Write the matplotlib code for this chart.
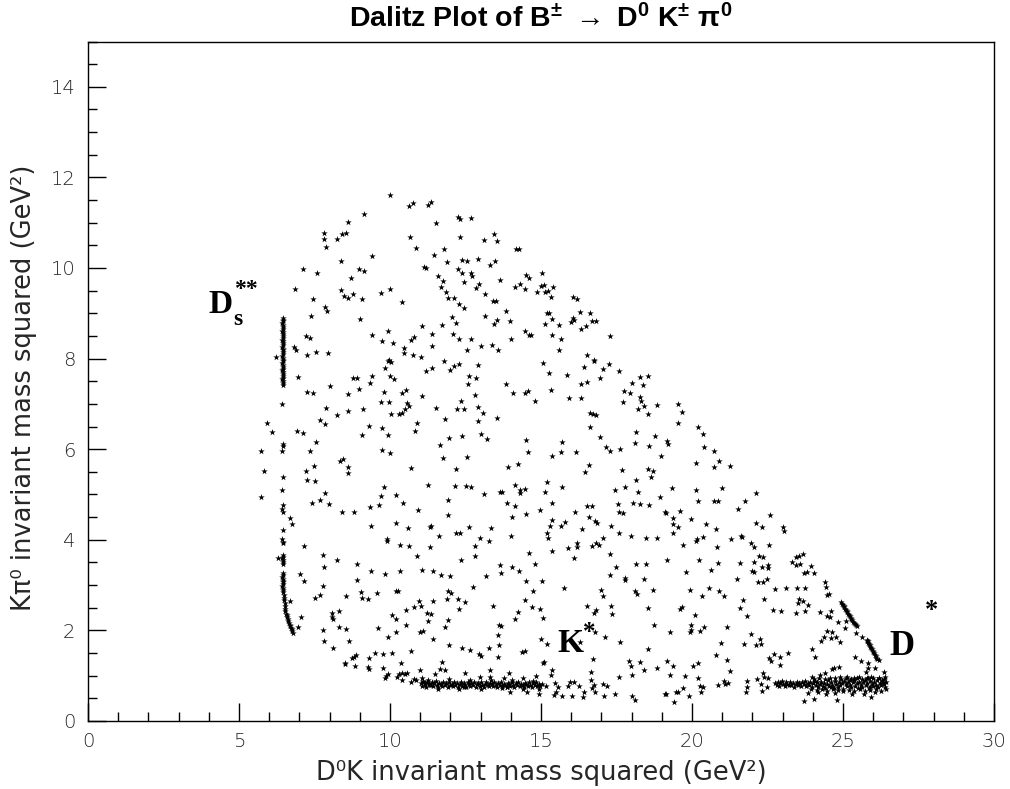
import matplotlib

matplotlib.use("Agg")
import matplotlib.pyplot as plt
import numpy as np
from matplotlib.ticker import MultipleLocator

UPPER_LEFT = [
    (9.99, 11.61), (10.63, 11.37), (10.76, 11.43), (11.26, 11.39), (9.15, 11.19), (8.60, 11.02),
    (7.82, 10.78), (7.81, 10.63), (7.89, 10.47), (8.24, 10.63), (8.41, 10.74), (8.53, 10.77),
    (10.68, 10.69), (10.85, 10.45), (9.39, 10.26), (8.39, 10.16), (11.12, 10.02), (11.20, 10.01),
    (8.96, 9.97), (9.14, 9.93), (7.12, 9.97), (7.57, 9.88), (8.72, 9.77), (6.84, 9.53),
    (8.37, 9.51), (8.48, 9.39), (8.61, 9.34), (8.77, 9.43), (9.07, 9.31), (9.70, 9.44),
    (10.00, 9.54), (10.40, 9.26), (7.46, 9.32), (7.84, 9.13), (7.92, 9.05), (7.37, 8.95),
    (9.01, 8.88), (11.06, 8.73), (9.92, 8.61), (9.42, 8.51), (9.73, 8.39), (10.11, 8.34),
    (7.21, 8.50), (7.34, 8.45), (10.69, 8.41), (10.80, 8.48), (10.45, 8.24), (10.47, 8.12),
    (10.77, 8.09), (11.03, 8.03), (6.81, 8.26), (6.89, 8.19), (7.25, 8.07), (7.56, 8.14),
    (7.94, 8.13), (6.24, 8.03), (9.96, 7.98),
]
UPPER_MID = [
    (11.37, 11.45), (12.24, 11.12), (12.33, 11.08), (12.68, 11.11), (11.53, 11.00), (13.43, 10.76),
    (12.31, 10.69), (13.10, 10.61), (13.55, 10.60), (14.16, 10.41), (14.26, 10.41), (11.79, 10.41),
    (11.47, 10.28), (11.90, 10.13), (12.37, 10.18), (12.55, 10.15), (12.90, 10.19), (13.48, 10.15),
    (13.31, 10.06), (12.25, 9.97), (12.40, 9.88), (12.67, 9.90), (12.71, 9.82), (11.58, 9.82),
    (11.74, 9.71), (12.44, 9.69), (12.96, 9.65), (12.84, 9.56), (13.63, 9.74), (11.68, 9.58),
    (11.85, 9.46), (11.93, 9.34), (12.12, 9.34), (13.14, 9.43), (12.27, 9.21), (12.45, 9.11),
    (13.42, 9.27), (13.50, 9.27), (13.84, 9.06), (15.05, 9.90), (14.50, 9.85), (14.61, 9.77),
    (14.29, 9.65), (14.13, 9.58), (14.47, 9.54), (15.01, 9.60), (15.11, 9.63), (15.39, 9.58),
    (14.86, 9.46), (15.15, 9.46), (15.22, 9.49), (15.33, 9.37), (16.05, 9.37), (16.19, 9.32),
    (15.19, 9.00), (15.27, 9.01), (15.38, 8.88), (15.15, 8.76), (15.60, 8.74), (16.28, 9.02),
    (16.61, 9.01), (16.05, 8.90), (16.10, 8.85), (16.01, 8.81), (16.70, 8.84), (16.83, 8.83),
    (16.49, 8.73), (16.34, 8.65), (17.27, 8.50), (12.05, 8.92), (12.18, 8.78), (11.73, 8.75),
    (13.14, 8.94), (13.53, 8.85), (13.46, 8.77), (13.96, 8.84), (11.39, 8.54), (12.08, 8.55),
    (12.27, 8.44), (12.68, 8.43), (11.40, 8.28), (12.54, 8.18), (13.01, 8.27), (13.37, 8.31),
    (13.57, 8.20), (14.00, 8.43), (14.47, 8.61), (14.60, 8.51), (14.66, 8.51), (15.36, 8.51),
    (15.66, 8.44), (15.59, 8.19), (16.52, 8.08), (16.76, 7.98),
]
MID_LEFT = [
    (6.42, 6.99), (6.96, 7.59), (7.24, 7.27), (7.44, 7.25), (8.02, 7.40), (8.76, 7.58),
    (8.90, 7.58), (9.40, 7.62), (9.33, 7.47), (8.97, 7.32), (8.60, 7.22), (9.82, 7.79),
    (9.93, 7.95), (10.05, 7.93), (10.01, 7.62), (10.15, 7.56), (9.81, 7.27), (9.70, 7.05),
    (9.97, 7.05), (10.39, 7.25), (10.52, 7.31), (11.19, 7.73), (11.06, 7.17), (10.58, 7.01),
    (10.62, 6.96), (10.49, 6.88), (10.41, 6.81), (10.30, 6.77), (10.02, 6.77), (7.87, 6.92),
    (8.26, 6.76), (8.60, 6.84), (9.10, 6.89), (7.67, 6.64), (7.86, 6.55), (5.94, 6.58),
    (6.11, 6.37), (6.92, 6.40), (7.11, 6.35), (9.29, 6.52), (9.09, 6.32), (9.73, 6.47),
    (9.93, 6.32), (10.88, 6.58), (10.82, 6.40), (6.45, 6.11), (6.46, 6.07), (5.72, 5.95),
    (6.41, 5.95), (7.54, 6.16), (7.34, 5.96), (9.72, 5.98), (9.99, 5.92), (8.46, 5.79),
    (8.35, 5.73), (8.62, 5.61), (8.61, 5.48), (7.49, 5.64), (7.23, 5.51), (5.84, 5.51),
    (10.69, 5.59), (6.45, 5.38), (7.26, 5.31), (7.53, 5.29), (6.43, 5.11), (5.72, 4.95),
    (9.80, 5.16), (9.70, 4.96), (10.19, 4.99), (11.27, 5.20), (7.85, 5.03), (7.67, 4.88),
    (7.42, 4.81), (7.98, 4.79), (10.43, 4.82), (9.64, 4.76), (9.34, 4.73), (6.47, 4.76),
    (6.43, 4.67), (6.47, 4.61), (8.40, 4.62), (8.80, 4.61), (10.93, 4.65), (6.68, 4.49),
    (6.77, 4.34), (9.36, 4.31), (10.20, 4.38), (10.60, 4.27), (11.32, 4.29), (6.45, 4.21),
    (6.43, 4.02), (9.90, 4.01),
]
MID_CENTRE = [
    (11.78, 7.94), (11.39, 7.79), (12.00, 7.75), (12.13, 7.83), (12.28, 7.87), (12.90, 7.86),
    (12.61, 7.62), (12.84, 7.57), (12.57, 7.45), (13.83, 7.45), (14.06, 7.23), (14.46, 7.23),
    (14.56, 7.28), (14.79, 7.06), (12.80, 7.19), (12.35, 7.07), (11.52, 6.92), (12.21, 6.88),
    (12.45, 6.88), (12.90, 6.93), (13.07, 6.81), (12.92, 6.62), (13.53, 6.69), (11.81, 6.67),
    (15.06, 7.91), (15.25, 7.68), (15.32, 7.31), (15.85, 7.64), (15.92, 7.12), (16.31, 7.12),
    (16.32, 7.45), (16.51, 7.49), (16.43, 7.82), (16.75, 7.95), (17.04, 7.76), (17.26, 7.88),
    (16.97, 7.57), (17.58, 7.73), (18.29, 7.59), (18.55, 7.62), (18.03, 7.47), (18.39, 7.42),
    (17.74, 7.28), (17.96, 7.23), (18.27, 7.15), (18.32, 7.06), (17.71, 7.04), (18.41, 6.95),
    (18.21, 6.89), (18.83, 6.97), (18.53, 6.77), (16.63, 6.81), (16.72, 6.77), (16.82, 6.76),
    (16.62, 6.50), (16.95, 6.27), (17.17, 6.04), (17.29, 5.95), (17.63, 6.00), (18.16, 6.39),
    (18.13, 6.14), (18.78, 6.29), (18.59, 6.06), (18.99, 5.84), (11.97, 6.25), (12.38, 6.29),
    (13.00, 6.34), (13.22, 6.23), (11.65, 6.09), (11.74, 5.81), (12.55, 5.83), (12.18, 5.57),
    (14.49, 6.21), (14.58, 5.94), (13.91, 5.61), (14.23, 5.68), (15.36, 5.85), (15.69, 6.16),
    (15.68, 5.94), (16.15, 5.94), (16.59, 5.65), (16.46, 5.50), (17.68, 5.54), (18.53, 5.56),
    (18.70, 5.52), (18.63, 5.39), (18.14, 5.31), (17.78, 5.17), (17.45, 5.10), (18.23, 5.05),
    (18.95, 4.94), (12.14, 5.18), (12.53, 5.18), (12.68, 5.16), (13.10, 5.01), (13.66, 5.06),
    (13.72, 5.06), (14.13, 5.22), (14.47, 5.13), (14.32, 5.09), (14.31, 5.03), (15.21, 5.28),
    (15.12, 5.06), (15.69, 5.16), (11.92, 4.87), (13.86, 4.82), (14.13, 4.75), (14.97, 4.66),
    (15.38, 4.81), (11.92, 4.55), (14.03, 4.50), (14.49, 4.57), (16.13, 4.62), (16.51, 4.74),
    (16.68, 4.74), (16.59, 4.51), (16.78, 4.41), (16.84, 4.38), (17.54, 4.78), (18.06, 4.82),
    (18.29, 4.78), (18.59, 4.76), (17.58, 4.61), (17.71, 4.60), (19.11, 4.61), (11.36, 4.31),
    (11.64, 4.08), (12.18, 4.14), (12.33, 4.14), (12.63, 4.28), (12.97, 4.05), (13.33, 4.27),
    (14.00, 4.09), (15.36, 4.43), (15.30, 4.30), (15.65, 4.31), (15.79, 4.39), (15.20, 4.16),
    (15.23, 4.05), (16.37, 4.24), (17.31, 4.30), (17.06, 4.03), (17.58, 4.14), (17.97, 4.08),
    (18.49, 4.03), (18.85, 4.05),
]
MID_RIGHT = [
    (19.55, 6.99), (19.67, 6.83), (19.55, 6.58), (20.19, 6.49), (20.35, 6.33), (19.17, 6.17),
    (19.20, 6.12), (20.41, 6.04), (20.73, 5.95), (20.88, 5.75), (20.14, 5.70), (20.74, 5.61),
    (21.27, 5.62), (19.33, 5.14), (20.15, 5.11), (21.01, 5.14), (22.11, 5.04), (20.21, 4.85),
    (20.74, 4.85), (20.85, 4.85), (21.77, 4.86), (21.54, 4.68), (22.57, 4.55), (19.14, 4.60),
    (19.61, 4.63), (19.37, 4.49), (19.97, 4.45), (19.37, 4.35), (19.55, 4.28), (20.46, 4.35),
    (20.78, 4.24), (22.13, 4.36), (22.33, 4.29), (23.03, 4.28), (23.06, 4.20), (19.38, 4.14),
    (20.37, 4.07), (21.62, 4.09), (21.67, 4.06), (21.28, 4.02), (20.16, 4.01),
]
LOW_LEFT = [
    (7.17, 3.86), (6.28, 3.59), (7.78, 3.66), (8.26, 3.55), (8.90, 3.46), (7.83, 3.39),
    (7.01, 3.25), (7.17, 3.10), (7.79, 2.97), (7.69, 2.79), (7.53, 2.71), (8.90, 3.11),
    (9.36, 3.31), (9.85, 3.25), (10.32, 3.31), (11.05, 3.33), (9.03, 2.85), (9.08, 2.71),
    (9.26, 2.69), (9.57, 2.83), (8.54, 2.75), (10.21, 2.88), (10.25, 2.86), (9.89, 3.97),
    (10.33, 3.89), (10.63, 3.86), (10.89, 3.65), (11.32, 3.84), (6.69, 2.65), (7.07, 2.29),
    (6.95, 2.07), (8.07, 2.39), (8.30, 2.42), (8.08, 2.29), (8.13, 2.26), (8.32, 2.08),
    (8.53, 2.02), (7.78, 2.00), (7.80, 1.76), (8.12, 1.61), (8.64, 1.77), (9.59, 2.06),
    (9.92, 1.85), (10.19, 1.97), (10.08, 2.33), (10.21, 2.26), (10.53, 2.44), (10.52, 2.11),
    (10.78, 2.51), (10.95, 2.64), (11.04, 2.53), (11.23, 2.38), (11.26, 2.21), (10.98, 1.96),
    (11.11, 1.98), (10.71, 1.54), (9.49, 1.49), (9.77, 1.47), (10.08, 1.49), (9.30, 1.40),
    (8.81, 1.42), (8.87, 1.46), (8.75, 1.38), (8.50, 1.29), (8.52, 1.25), (8.85, 1.21),
    (9.26, 1.19), (9.29, 1.14), (9.76, 1.17), (9.92, 1.03), (9.88, 1.00), (9.84, 0.96),
    (10.24, 0.97), (10.31, 1.04), (10.40, 1.07), (10.49, 1.04), (10.57, 1.05), (10.35, 1.27),
    (10.98, 1.13), (10.41, 0.91), (10.71, 0.87), (10.79, 0.92), (10.86, 0.91), (11.06, 0.94),
    (11.09, 0.87), (11.17, 0.83), (11.28, 0.82), (11.35, 0.80),
]
LOW_CENTRE = [
    (12.82, 3.86), (13.28, 3.97), (12.80, 3.65), (12.35, 3.55), (11.42, 3.31), (11.70, 3.23),
    (11.99, 3.21), (13.17, 3.19), (13.64, 3.44), (13.69, 3.27), (14.03, 3.39), (14.27, 3.32),
    (14.59, 3.71), (14.81, 3.47), (14.52, 3.10), (15.03, 3.08), (15.38, 3.76), (15.88, 3.81),
    (16.10, 3.59), (16.20, 3.83), (16.21, 3.93), (16.69, 3.86), (16.82, 3.93), (16.93, 3.89),
    (17.27, 3.69), (17.50, 3.39), (17.29, 3.22), (17.77, 3.16), (17.78, 3.12), (18.16, 3.46),
    (18.48, 3.46), (18.42, 3.13), (18.13, 2.86), (18.19, 2.80), (18.71, 2.89), (18.53, 2.49),
    (18.73, 2.11), (18.53, 1.60), (12.74, 2.95), (11.93, 2.86), (12.02, 2.83), (11.89, 2.69),
    (12.24, 2.70), (12.49, 2.63), (11.42, 2.65), (12.27, 2.47), (13.40, 2.53), (11.37, 2.36),
    (11.92, 2.24), (11.81, 2.08), (13.62, 2.13), (13.69, 2.10), (13.57, 1.90), (11.44, 1.80),
    (11.95, 1.67), (12.38, 1.62), (12.64, 1.57), (12.96, 1.48), (13.03, 1.44), (13.29, 1.62),
    (13.60, 1.67), (13.59, 1.42), (14.36, 1.53), (14.46, 1.55), (14.15, 2.25), (14.24, 2.41),
    (14.46, 2.67), (14.75, 2.86), (14.71, 2.52), (14.97, 2.47), (15.07, 2.27), (15.77, 2.93),
    (15.01, 1.81), (15.19, 1.70), (16.54, 2.54), (16.74, 2.39), (16.83, 2.45), (16.99, 2.89),
    (17.05, 2.75), (17.31, 2.53), (17.36, 2.37), (16.79, 1.96), (17.11, 1.86), (16.30, 1.75),
    (17.63, 1.74), (16.73, 1.37), (17.93, 1.33), (17.97, 1.22), (18.29, 1.30), (18.40, 1.13),
    (18.83, 1.16), (18.03, 1.02), (17.60, 0.98), (16.65, 1.09), (15.07, 1.27), (15.11, 1.30),
    (15.36, 1.13), (15.33, 1.02), (13.30, 1.13), (13.93, 1.07), (11.71, 1.30), (11.66, 1.14),
    (11.81, 1.13), (11.48, 1.04), (12.47, 1.05), (14.82, 1.00), (15.16, 0.77), (15.47, 0.83),
    (15.58, 0.76), (15.51, 0.65), (15.42, 0.57), (15.70, 0.55), (15.88, 0.77), (15.95, 0.87),
    (16.08, 0.85), (16.26, 0.77), (16.04, 0.55), (16.41, 0.63), (16.39, 0.52), (16.65, 0.91),
    (16.74, 0.80), (16.80, 0.65), (16.69, 0.72), (17.07, 0.82), (17.18, 0.77), (17.10, 0.55),
    (17.44, 0.59), (18.03, 0.55), (18.10, 0.47), (19.12, 0.60), (14.92, 0.70), (14.92, 0.59),
    (14.54, 0.63), (13.98, 0.65), (13.89, 0.76), (14.42, 0.96), (13.76, 0.94), (13.32, 0.98),
    (12.99, 0.98), (12.44, 0.76),
]
LOW_RIGHT = [
    (19.72, 3.89), (20.15, 3.98), (20.83, 3.83), (19.18, 3.55), (20.24, 3.55), (20.85, 3.48),
    (20.63, 3.33), (19.79, 3.28), (19.95, 2.90), (20.56, 2.93), (20.32, 2.77), (20.90, 2.86),
    (21.07, 2.77), (21.96, 3.94), (22.04, 3.84), (22.54, 3.89), (21.58, 3.49), (22.05, 3.50),
    (22.23, 3.65), (22.34, 3.62), (22.32, 3.40), (22.52, 3.44), (22.52, 3.37), (21.99, 3.32),
    (22.07, 3.28), (21.48, 3.13), (22.20, 3.06), (22.35, 3.06), (22.48, 3.13), (21.68, 2.67),
    (21.58, 2.50), (21.81, 2.31), (22.39, 2.69), (22.74, 2.91), (23.10, 2.94), (23.48, 2.94),
    (23.75, 2.93), (23.54, 2.69), (23.69, 2.65), (23.51, 2.61), (23.84, 2.57), (22.67, 2.44),
    (22.95, 2.43), (23.43, 2.38), (23.73, 2.42), (23.32, 3.52), (23.44, 3.61), (23.55, 3.65),
    (23.69, 3.68), (23.45, 3.44), (23.59, 3.46), (23.71, 3.27), (23.80, 3.30), (23.94, 3.43),
    (24.04, 3.26), (24.40, 3.06), (24.45, 2.95), (24.48, 2.78), (24.53, 2.81), (24.23, 2.40),
    (24.48, 2.31), (24.62, 2.42), (24.58, 2.30), (24.82, 2.19), (25.09, 2.21), (25.08, 2.06),
    (24.47, 1.99), (24.64, 1.97), (24.37, 1.86), (24.28, 1.77), (24.60, 1.83), (24.77, 1.86),
    (24.89, 1.74), (25.44, 1.94), (25.63, 1.86), (25.79, 1.77), (23.96, 1.59), (24.07, 1.42),
    (25.39, 1.42), (25.61, 1.33), (25.84, 1.27), (25.83, 1.18), (26.05, 1.18), (25.75, 1.09),
    (26.35, 1.09), (23.19, 1.51), (22.73, 1.47), (22.90, 1.41), (22.55, 1.40), (22.62, 1.33),
    (22.91, 1.24), (19.95, 1.97), (19.26, 1.97), (20.11, 2.35), (19.61, 2.48), (19.68, 2.51),
    (19.98, 2.12), (19.98, 2.00), (20.28, 1.99), (20.40, 2.07), (21.15, 2.07), (20.95, 1.73),
    (20.79, 1.46), (21.17, 1.35), (21.26, 1.10), (21.94, 1.91), (21.73, 1.71), (22.12, 1.68),
    (22.29, 1.71), (22.26, 1.82), (19.19, 1.33), (19.37, 1.21), (20.04, 1.21), (20.19, 1.28),
    (19.27, 1.01), (19.76, 0.99), (20.21, 0.96), (20.25, 0.78), (20.35, 0.75), (20.31, 0.64),
    (19.15, 0.59), (19.47, 0.65), (19.54, 0.65), (19.70, 0.72), (19.89, 0.55), (19.42, 0.41),
    (20.85, 0.79), (21.05, 0.88), (21.10, 0.81), (21.20, 0.83), (21.82, 0.88), (21.81, 0.76),
    (21.79, 0.65), (22.16, 0.93), (22.27, 0.82), (22.35, 1.05), (22.39, 0.98), (22.51, 0.95),
    (22.48, 0.76), (22.32, 0.66), (23.72, 0.45), (24.05, 0.48), (24.81, 0.46), (23.84, 0.61),
    (24.19, 0.65), (24.44, 0.60), (24.75, 0.61), (25.30, 0.60), (25.69, 0.60), (25.93, 0.54),
    (26.07, 0.65), (23.97, 0.98), (24.25, 1.02), (24.41, 1.05), (24.63, 1.14), (24.72, 1.16),
    (24.86, 1.19), (24.91, 0.98), (25.14, 0.98), (25.35, 0.94), (25.52, 0.98), (25.79, 0.94),
    (25.94, 0.98), (26.18, 0.94), (26.40, 0.98),
]
# D_s** resonance: the near-vertical line at low m2(D0K)
DS_LINE = [
    (6.46, 8.90), (6.45, 8.86), (6.47, 8.82), (6.44, 8.78), (6.46, 8.74), (6.45, 8.70),
    (6.47, 8.66), (6.44, 8.62), (6.46, 8.58), (6.45, 8.54), (6.47, 8.50), (6.45, 8.46),
    (6.44, 8.42), (6.46, 8.38), (6.45, 8.34), (6.47, 8.30), (6.44, 8.26), (6.46, 8.22),
    (6.45, 8.18), (6.47, 8.14), (6.45, 8.10), (6.44, 8.06), (6.46, 8.02), (6.45, 7.98),
    (6.47, 7.94), (6.44, 7.90), (6.46, 7.86), (6.45, 7.82), (6.47, 7.78), (6.44, 7.74),
    (6.46, 7.70), (6.45, 7.66), (6.47, 7.62), (6.45, 7.58), (6.44, 7.54), (6.46, 7.50),
    (6.45, 7.46), (6.46, 7.42),
    (6.45, 3.96), (6.46, 3.92), (6.45, 3.67), (6.46, 3.63), (6.44, 3.59), (6.46, 3.55),
    (6.45, 3.51), (6.46, 3.47), (6.45, 3.26), (6.46, 3.22), (6.44, 3.18), (6.46, 3.14),
    (6.45, 3.10), (6.46, 3.06), (6.45, 3.02), (6.44, 2.98), (6.46, 2.94), (6.45, 2.90),
    (6.47, 2.84), (6.48, 2.78), (6.49, 2.72), (6.50, 2.66), (6.51, 2.60), (6.52, 2.54),
    (6.53, 2.48), (6.54, 2.42), (6.56, 2.37), (6.58, 2.33), (6.60, 2.29), (6.62, 2.25),
    (6.64, 2.21), (6.66, 2.17), (6.68, 2.13), (6.70, 2.10), (6.72, 2.06), (6.74, 2.02),
    (6.77, 1.98), (6.79, 1.94),
]
# K* resonance: dense band near m2(K pi0) ~ 0.8
KSTAR_BAND = [
    (11.02, 0.84), (11.07, 0.78), (11.11, 0.88), (11.16, 0.80), (11.20, 0.76), (11.24, 0.86),
    (11.29, 0.82), (11.33, 0.79), (11.38, 0.85), (11.42, 0.77), (11.46, 0.83), (11.51, 0.88),
    (11.55, 0.80), (11.60, 0.75), (11.64, 0.84), (11.69, 0.81), (11.73, 0.78), (11.77, 0.86),
    (11.82, 0.79), (11.86, 0.83), (11.91, 0.76), (11.95, 0.85), (12.00, 0.80), (12.04, 0.82),
    (12.08, 0.77), (12.13, 0.87), (12.17, 0.79), (12.22, 0.84), (12.26, 0.75), (12.31, 0.81),
    (12.35, 0.86), (12.39, 0.78), (12.44, 0.83), (12.48, 0.80), (12.53, 0.76), (12.57, 0.85),
    (12.62, 0.82), (12.66, 0.78), (12.70, 0.84), (12.75, 0.79), (12.79, 0.87), (12.84, 0.76),
    (12.88, 0.81), (12.93, 0.83), (12.97, 0.78), (13.01, 0.85), (13.06, 0.80), (13.10, 0.75),
    (13.15, 0.82), (13.19, 0.86), (13.24, 0.79), (13.28, 0.77), (13.32, 0.84), (13.37, 0.81),
    (13.41, 0.78), (13.46, 0.86), (13.50, 0.80), (13.55, 0.76), (13.59, 0.83), (13.63, 0.79),
    (13.68, 0.85), (13.72, 0.77), (13.77, 0.82), (13.81, 0.80), (13.86, 0.75), (13.90, 0.84),
    (13.94, 0.81), (13.99, 0.78), (14.03, 0.86), (14.08, 0.79), (14.12, 0.76), (14.17, 0.83),
    (14.21, 0.80), (14.25, 0.85), (14.30, 0.77), (14.34, 0.82), (14.39, 0.79), (14.43, 0.75),
    (14.48, 0.84), (14.52, 0.81), (14.56, 0.78), (14.61, 0.86), (14.65, 0.80), (14.70, 0.76),
    (14.74, 0.83), (14.79, 0.79), (14.83, 0.85), (14.88, 0.77), (14.92, 0.81), (14.97, 0.78),
    (11.25, 0.91), (11.60, 0.70), (11.95, 0.92), (12.30, 0.71), (12.65, 0.90), (13.00, 0.70),
    (13.35, 0.91), (13.70, 0.72), (14.05, 0.90), (14.40, 0.71), (14.75, 0.89), (15.05, 0.82),
]
# D* resonance: dense band at the right end plus the two diagonal streaks
DSTAR_BAND = [
    (22.75, 0.84), (22.80, 0.80), (22.84, 0.86), (22.89, 0.78), (22.93, 0.83), (22.98, 0.88),
    (23.02, 0.81), (23.07, 0.77), (23.11, 0.85), (23.16, 0.82), (23.20, 0.79), (23.25, 0.87),
    (23.29, 0.80), (23.34, 0.84), (23.38, 0.76), (23.43, 0.82), (23.47, 0.86), (23.52, 0.79),
    (23.56, 0.83), (23.61, 0.77), (23.65, 0.85), (23.70, 0.81), (23.74, 0.88), (23.79, 0.78),
    (23.83, 0.84), (23.88, 0.80), (23.92, 0.86), (23.97, 0.76), (24.01, 0.83), (24.06, 0.89),
    (24.10, 0.79), (24.15, 0.85), (24.19, 0.74), (24.24, 0.82), (24.28, 0.87), (24.33, 0.78),
    (24.37, 0.84), (24.42, 0.72), (24.46, 0.81), (24.51, 0.90), (24.55, 0.77), (24.60, 0.85),
    (24.64, 0.80), (24.69, 0.73), (24.73, 0.88), (24.78, 0.82), (24.82, 0.76), (24.87, 0.86),
    (24.91, 0.79), (24.96, 0.84), (25.00, 0.71), (25.05, 0.89), (25.09, 0.81), (25.14, 0.77),
    (25.18, 0.86), (25.23, 0.80), (25.27, 0.74), (25.32, 0.85), (25.36, 0.90), (25.41, 0.78),
    (25.45, 0.83), (25.50, 0.72), (25.54, 0.87), (25.59, 0.80), (25.63, 0.76), (25.68, 0.85),
    (25.72, 0.91), (25.77, 0.79), (25.81, 0.84), (25.86, 0.73), (25.90, 0.88), (25.95, 0.81),
    (25.99, 0.77), (26.04, 0.86), (26.08, 0.80), (26.13, 0.90), (26.17, 0.75), (26.22, 0.84),
    (26.26, 0.79), (26.31, 0.87), (26.35, 0.82), (26.40, 0.76), (26.44, 0.85),
    (23.95, 0.70), (24.05, 0.93), (24.14, 0.68), (24.22, 0.95), (24.31, 0.71), (24.40, 0.92),
    (24.48, 0.66), (24.57, 0.94), (24.66, 0.70), (24.75, 0.96), (24.84, 0.68), (24.92, 0.93),
    (25.01, 0.66), (25.10, 0.95), (25.19, 0.69), (25.28, 0.92), (25.37, 0.67), (25.46, 0.96),
    (25.55, 0.70), (25.64, 0.93), (25.73, 0.66), (25.82, 0.95), (25.91, 0.68), (26.00, 0.94),
    (26.09, 0.70), (26.18, 0.96), (26.27, 0.67), (26.36, 0.93), (26.43, 0.71), (24.60, 0.74),
    (25.25, 0.90), (25.90, 0.74), (26.30, 0.91),
]
DSTAR_STREAKS = [
    (24.94, 2.62), (24.97, 2.59), (25.00, 2.56), (25.02, 2.53), (25.05, 2.51), (25.07, 2.48),
    (25.10, 2.45), (25.12, 2.43), (25.15, 2.40), (25.18, 2.37), (25.20, 2.34), (25.23, 2.31),
    (25.26, 2.28), (25.28, 2.25), (25.31, 2.22), (25.34, 2.19), (25.37, 2.16), (25.40, 2.14),
    (25.43, 2.12), (25.46, 2.10),
    (25.79, 1.79), (25.82, 1.76), (25.84, 1.73), (25.86, 1.70), (25.88, 1.67), (25.91, 1.64),
    (25.93, 1.61), (25.95, 1.58), (25.98, 1.55), (26.00, 1.52), (26.03, 1.49), (26.05, 1.46),
    (26.08, 1.43), (26.11, 1.40), (26.14, 1.37), (26.18, 1.35),
]

GROUPS = [UPPER_LEFT, UPPER_MID, MID_LEFT, MID_CENTRE, MID_RIGHT, LOW_LEFT, LOW_CENTRE,
          LOW_RIGHT, DS_LINE, KSTAR_BAND, DSTAR_BAND, DSTAR_STREAKS]
INK = "#262626"

plt.rcParams.update({
    "font.family": ["DejaVu Sans"],
    "font.weight": "light",
    "mathtext.fontset": "custom",
    "mathtext.rm": "Liberation Sans:bold",
    "mathtext.it": "Liberation Sans:bold",
    "mathtext.bf": "Liberation Sans:bold",
})

fig = plt.figure(figsize=(10.10, 7.89), dpi=100)
ax = fig.add_axes([0.0871, 0.0862, 0.8970, 0.8612])

points = np.array([p for group in GROUPS for p in group])
ax.scatter(points[:, 0], points[:, 1], marker="*", s=24, color="black", linewidths=0)

ax.set_xlim(0, 30)
ax.set_ylim(0, 15)
ax.xaxis.set_major_locator(MultipleLocator(5))
ax.xaxis.set_minor_locator(MultipleLocator(1))
ax.yaxis.set_major_locator(MultipleLocator(2))
ax.yaxis.set_minor_locator(MultipleLocator(0.5))
ax.tick_params(which="both", direction="in", top=False, right=False, labelsize=14,
               labelcolor=INK, color="black", width=1.0)
ax.tick_params(axis="x", which="both", pad=8)
ax.tick_params(axis="y", which="both", pad=9)
ax.tick_params(which="major", length=13)
ax.tick_params(which="minor", length=6.5)
for spine in ax.spines.values():
    spine.set_linewidth(1.0)

ax.set_xlabel("D\u2070K invariant mass squared (GeV\u00b2)", fontsize=18.5, color=INK)
ax.set_ylabel("K\u03c0\u2070 invariant mass squared (GeV\u00b2)", fontsize=18.5, color=INK)
ax.xaxis.set_label_coords(0.5, -0.058)
ax.yaxis.set_label_coords(-0.056, 0.49)

fig.text(0.5356, 0.9655,
         r"Dalitz Plot of B$^{\pm}$ ${\rightarrow}$ D$^{0}$ K$^{\pm}$ ${\pi}^{0}$",
         ha="center", va="baseline", fontsize=20.5, fontweight="bold", family="Liberation Sans")

serif = dict(family="Liberation Serif", fontweight="bold", color="black", va="baseline")
ax.text(3.99, 9.00, "D", fontsize=24, **serif)
ax.text(4.80, 8.74, "s", fontsize=17, **serif)
ax.text(4.84, 9.40, "**", fontsize=17, **serif)
ax.text(15.56, 1.52, "K", fontsize=24, **serif)
ax.text(16.38, 1.82, "*", fontsize=18, **serif)
ax.text(26.54, 1.46, "D", fontsize=25, **serif)
ax.text(27.72, 2.30, "*", fontsize=19, **serif)

fig.savefig("out.png", dpi=100)
